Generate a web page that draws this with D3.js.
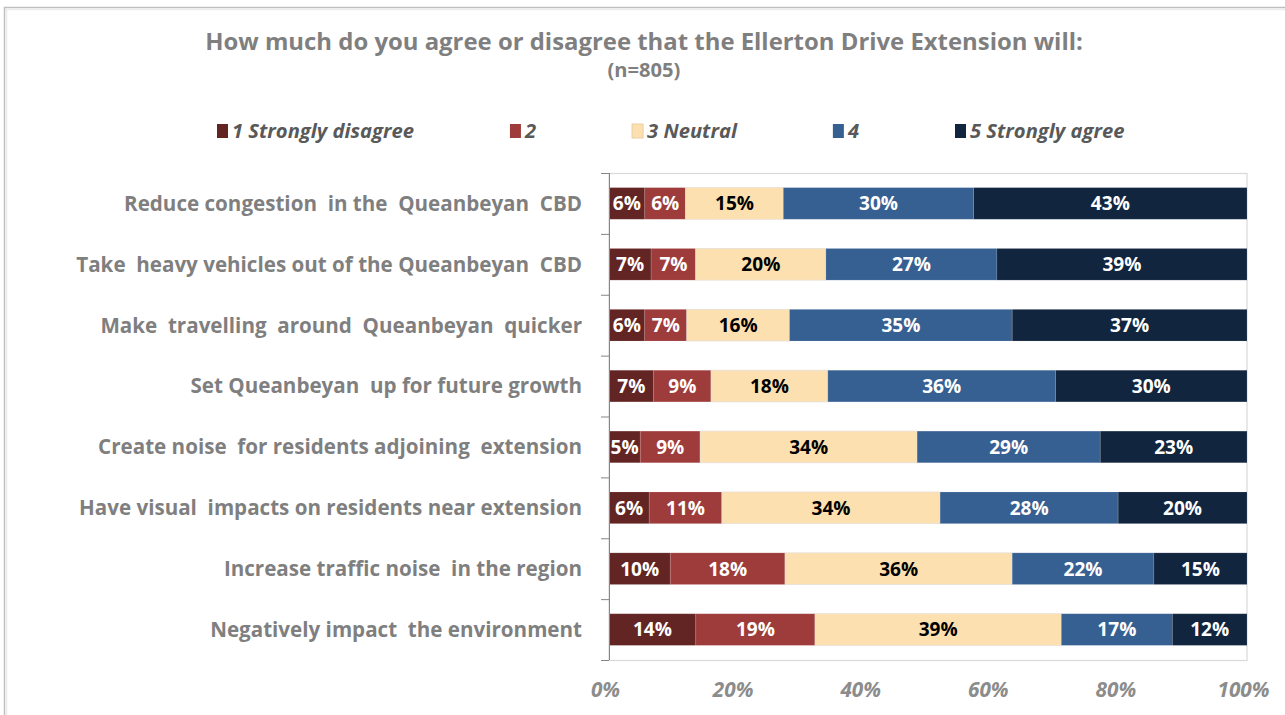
<!DOCTYPE html>
<html>
<head>
<meta charset="utf-8">
<script src="https://cdn.jsdelivr.net/npm/d3@7"></script>
<style>
  html, body { margin: 0; padding: 0; background: #fff; }
  svg { display: block; }
  text { font-family: "Open Sans", Lato, sans-serif; }
</style>
</head>
<body>
<svg id="chart" width="1285" height="715"></svg>
<script>
// ---- data ----
const categories = [
  "Reduce congestion  in the  Queanbeyan  CBD",
  "Take  heavy vehicles out of the Queanbeyan  CBD",
  "Make  travelling  around  Queanbeyan  quicker",
  "Set Queanbeyan  up for future growth",
  "Create noise  for residents adjoining  extension",
  "Have visual  impacts on residents near extension",
  "Increase traffic noise  in the region",
  "Negatively impact  the environment"
];
const seriesNames = ["1 Strongly disagree", "2", "3 Neutral", "4", "5 Strongly agree"];
const s1 = [5.6, 6.6, 5.6, 7.0, 4.9, 6.3, 9.6, 13.6];
const s2 = [6.4, 7.0, 6.6, 9.0, 9.4, 11.4, 18.0, 18.7];
const s3 = [15.3, 20.4, 16.1, 18.3, 34.0, 34.2, 35.6, 38.6];
const s4 = [29.8, 26.8, 34.9, 35.7, 28.7, 27.9, 22.2, 17.4];
const s5 = [42.8, 39.2, 36.8, 30.0, 23.0, 20.2, 14.6, 11.7];
const xTicks = [0, 0.2, 0.4, 0.6, 0.8, 1.0];
const colors = ["#632523", "#9e3c3b", "#fde0af", "#376092", "#12253f"];
const labelColors = ["#ffffff", "#ffffff", "#000000", "#ffffff", "#ffffff"];

const seriesValues = [s1, s2, s3, s4, s5];
const rows = categories.map((c, i) => {
  const r = { cat: c };
  seriesNames.forEach((s, j) => r[s] = seriesValues[j][i]);
  return r;
});

const svg = d3.select("#chart");
const W = 1285, H = 715;

// scale a text selection's font-size so that the reference node gets the target width
function fitSize(sel, refNode, target) {
  const base = parseFloat(d3.select(refNode).attr("font-size"));
  const w = refNode.getComputedTextLength();
  const fs = base * target / w;
  sel.attr("font-size", fs);
  return fs;
}

// outer chart border (top + left visible)
svg.append("line").attr("x1", 4).attr("x2", W).attr("y1", 7.5).attr("y2", 7.5).attr("stroke", "#bfbfbf").attr("stroke-width", 1.5);
svg.append("line").attr("x1", 4).attr("x2", W).attr("y1", 9.5).attr("y2", 9.5).attr("stroke", "#ececec").attr("stroke-width", 1.5);
svg.append("line").attr("x1", 4.5).attr("x2", 4.5).attr("y1", 7).attr("y2", H).attr("stroke", "#bfbfbf").attr("stroke-width", 1.5);
svg.append("line").attr("x1", 6.5).attr("x2", 6.5).attr("y1", 9).attr("y2", H).attr("stroke", "#ececec").attr("stroke-width", 1.5);

const plot = { left: 609, right: 1247, top: 173, bottom: 660 };

const x = d3.scaleLinear().domain([0, 1]).range([plot.left, plot.right]);
const y = d3.scaleBand().domain(categories).range([plot.top, plot.bottom]).paddingInner(0.48).paddingOuter(0.24);

const stack = d3.stack().keys(seriesNames).offset(d3.stackOffsetExpand);
const stacked = stack(rows);

// Title
const title = svg.append("text").attr("x", 644).attr("y", 50).attr("text-anchor", "middle")
  .attr("fill", "#7f7f7f").attr("font-weight", 700).attr("font-size", 20)
  .text("How much do you agree or disagree that the Ellerton Drive Extension will:");
fitSize(title, title.node(), 878);
const sub = svg.append("text").attr("x", 644).attr("y", 77).attr("text-anchor", "middle")
  .attr("fill", "#7f7f7f").attr("font-weight", 700).attr("font-size", 15)
  .text("(n=805)");
fitSize(sub, sub.node(), 73);

// Legend
const legend = svg.append("g").attr("transform", "translate(217,0)");
const legItems = legend.selectAll("g").data(seriesNames).join("g");
legItems.append("rect").attr("x", 0).attr("y", 124).attr("width", 11).attr("height", 14)
  .attr("fill", (d, j) => colors[j]).attr("stroke", (d, j) => j === 2 ? "#e8cfa0" : "none");
const legText = legItems.append("text").attr("x", 15).attr("y", 137.5)
  .attr("fill", "#595959").attr("font-style", "italic").attr("font-weight", 700).attr("font-size", 16)
  .text(d => d);
fitSize(legText, legText.nodes()[0], 182);
let lx = 0;
legItems.each(function () {
  const g = d3.select(this);
  g.attr("transform", `translate(${lx},0)`);
  lx += 15 + g.select("text").node().getComputedTextLength() + 96;
});

// plot area border (light)
svg.append("rect").attr("x", plot.left).attr("y", plot.top + 0.5)
  .attr("width", plot.right - plot.left).attr("height", plot.bottom - plot.top)
  .attr("fill", "none").attr("stroke", "#d9d9d9").attr("stroke-width", 1.2);

// bars
const layer = svg.append("g").selectAll("g").data(stacked).join("g")
  .attr("fill", (d, i) => colors[i]);
layer.selectAll("rect").data(d => d.map(p => ({ p, key: d.key }))).join("rect")
  .attr("x", d => x(d.p[0]))
  .attr("y", d => y(d.p.data.cat))
  .attr("width", d => x(d.p[1]) - x(d.p[0]))
  .attr("height", y.bandwidth())
  .attr("stroke", d => d.key === "3 Neutral" ? "#e6e0d6" : "rgba(255,255,255,0.15)")
  .attr("stroke-width", 0.8);

// data labels
const dlGroup = svg.append("g");
stacked.forEach((ser, j) => {
  dlGroup.append("g").selectAll("text").data(ser).join("text")
    .attr("class", "dl")
    .attr("x", d => (x(d[0]) + x(d[1])) / 2)
    .attr("y", d => y(d.data.cat) + y.bandwidth() / 2)
    .attr("dy", "0.36em")
    .attr("text-anchor", "middle")
    .attr("fill", labelColors[j])
    .attr("font-weight", 700).attr("font-size", 17)
    .text(d => Math.round(d.data[ser.key]) + "%");
});
const dls = dlGroup.selectAll("text.dl");
const ref43 = dls.filter(function () { return this.textContent === "43%"; }).node();
fitSize(dls, ref43, 39);

// y axis
const yAxis = d3.axisLeft(y).tickSize(0).tickPadding(27);
const ya = svg.append("g").attr("transform", `translate(${plot.left},0)`).call(yAxis);
ya.select(".domain").remove();
const yLabels = ya.selectAll("text").attr("fill", "#7f7f7f").attr("font-weight", 700).attr("font-size", 17)
  .attr("font-family", "'Open Sans', sans-serif").attr("dy", "0.36em").style("white-space", "pre");
fitSize(yLabels, yLabels.nodes()[1], 506);
// axis line and boundary tick marks
svg.append("line").attr("x1", plot.left + 0.5).attr("x2", plot.left + 0.5)
  .attr("y1", plot.top).attr("y2", plot.bottom).attr("stroke", "#868686").attr("stroke-width", 1);
const bounds = d3.range(categories.length + 1).map(i => plot.top + i * y.step());
svg.append("g").selectAll("line").data(bounds).join("line")
  .attr("x1", plot.left - 8).attr("x2", plot.left)
  .attr("y1", d => d + 0.5).attr("y2", d => d + 0.5)
  .attr("stroke", "#868686");

// x axis tick labels
const xAxis = d3.axisBottom(x).tickValues(xTicks).tickFormat(d3.format(".0%")).tickSize(0).tickPadding(22);
const xa = svg.append("g").attr("transform", `translate(0,${plot.bottom})`).call(xAxis);
xa.select(".domain").remove();
const xLabels = xa.selectAll("text").attr("fill", "#8c8c8c").attr("font-style", "italic").attr("font-weight", 700)
  .attr("font-size", 17).attr("font-family", "'Open Sans', sans-serif").attr("dx", "-4");
fitSize(xLabels, xLabels.nodes()[5], 52);
</script>
</body>
</html>
